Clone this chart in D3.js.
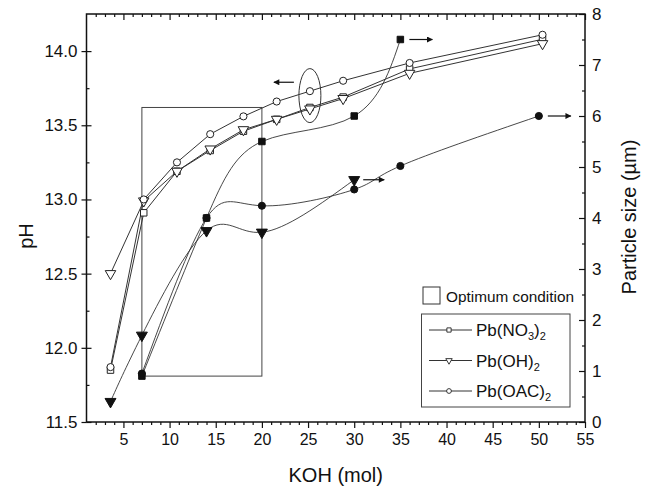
<!DOCTYPE html>
<html>
<head>
<meta charset="utf-8">
<script src="https://cdn.jsdelivr.net/npm/d3@7"></script>
<style>
  body { margin: 0; background: #fff; }
  text { font-family: 'Liberation Sans', Arial, sans-serif; fill: #111; }
</style>
</head>
<body>
<script>
  // pH (left axis), open symbols
  const kohOpen = [3.6, 7.2, 10.8, 14.4, 18, 21.6, 25.2, 28.8, 36, 50.4];
  const phNO3 = [11.85, 12.91, 13.19, 13.33, 13.46, 13.54, 13.62, 13.69, 13.88, 14.08];
  const phOH = [12.5, 12.99, 13.19, 13.34, 13.47, 13.54, 13.61, 13.68, 13.85, 14.05];
  const phOAC = [11.87, 13.0, 13.25, 13.44, 13.56, 13.66, 13.73, 13.8, 13.92, 14.11];

  // particle size (right axis), filled symbols
  const kohSizeNO3 = [7, 14, 20, 30, 35];
  const sizeNO3 = [0.9, 4.0, 5.5, 6.0, 7.5];
  const kohSizeOH = [3.6, 7, 14, 20, 30];
  const sizeOH = [0.4, 1.7, 3.75, 3.72, 4.75];
  const kohSizeOAC = [7, 14, 20, 30, 35, 50];
  const sizeOAC = [0.95, 4.0, 4.24, 4.56, 5.02, 6.0];

  // optimum condition box: KOH 7..20, pH top 13.62, size bottom 0.9
  const optimumKoh = [7, 20];
  const optimumPhTop = 13.62;
  const optimumSizeBottom = 0.9;

  const xTicks = [5, 10, 15, 20, 25, 30, 35, 40, 45, 50, 55];
  const phTicks = [11.5, 12.0, 12.5, 13.0, 13.5, 14.0];
  const sizeTicks = [0, 1, 2, 3, 4, 5, 6, 7, 8];
  const legendNames = [['Pb(NO', '3', ')', '2'], ['Pb(OH)', '2'], ['Pb(OAC)', '2']];

  const WIDTH = 654;
  const HEIGHT = 489;
  const LEFT = 86.5;
  const RIGHT = 585;
  const TOP = 14;
  const BOTTOM = 422;

  const svg = d3.select('body').append('svg')
    .attr('width', WIDTH)
    .attr('height', HEIGHT);

  const x = d3.scaleLinear().domain([1, 55]).range([LEFT, RIGHT]);
  const yL = d3.scaleLinear().domain([11.5, 14.25]).range([BOTTOM, TOP]);
  const yR = d3.scaleLinear().domain([0, 8]).range([BOTTOM, TOP]);

  const minorX = d3.range(2, 55, 1).filter(d => d % 5 !== 0);
  const minorPh = d3.range(11.75, 14.25, 0.5);
  const minorSize = d3.range(0.5, 8, 1);

  function styleAxis(g) {
    g.select('.domain').remove();
    g.selectAll('line').attr('stroke', '#111').attr('stroke-width', 1.2);
    g.selectAll('text').attr('font-size', 16).attr('fill', '#111');
  }

  // bottom
  svg.append('g').attr('transform', `translate(0,${BOTTOM})`)
    .call(d3.axisBottom(x).tickValues(xTicks).tickSize(6).tickPadding(6))
    .call(styleAxis);
  svg.append('g').attr('transform', `translate(0,${BOTTOM})`)
    .call(d3.axisBottom(x).tickValues(minorX).tickSize(3).tickFormat(''))
    .call(styleAxis);
  // top (mirror, inward)
  svg.append('g').attr('transform', `translate(0,${TOP})`)
    .call(d3.axisBottom(x).tickValues(xTicks).tickSize(6).tickFormat(''))
    .call(styleAxis);
  svg.append('g').attr('transform', `translate(0,${TOP})`)
    .call(d3.axisBottom(x).tickValues(minorX).tickSize(3).tickFormat(''))
    .call(styleAxis);

  // left pH
  svg.append('g').attr('transform', `translate(${LEFT},0)`)
    .call(d3.axisLeft(yL).tickValues(phTicks).tickSize(5).tickPadding(4).tickFormat(d3.format('.1f')))
    .call(styleAxis)
    .selectAll('text').attr('font-size', 17);
  svg.append('g').attr('transform', `translate(${LEFT},0)`)
    .call(d3.axisRight(yL).tickValues(phTicks).tickSize(5).tickFormat(''))
    .call(styleAxis);
  svg.append('g').attr('transform', `translate(${LEFT},0)`)
    .call(d3.axisRight(yL).tickValues(minorPh).tickSize(3).tickFormat(''))
    .call(styleAxis);

  // right size
  const rAxis = svg.append('g').attr('transform', `translate(${RIGHT},0)`)
    .call(d3.axisRight(yR).tickValues(sizeTicks).tickSize(0).tickPadding(7))
    .call(styleAxis);
  rAxis.selectAll('text').attr('font-size', 17);
  svg.append('g').attr('transform', `translate(${RIGHT},0)`)
    .call(d3.axisLeft(yR).tickValues(sizeTicks).tickSize(6).tickFormat(''))
    .call(styleAxis);
  svg.append('g').attr('transform', `translate(${RIGHT},0)`)
    .call(d3.axisLeft(yR).tickValues(minorSize).tickSize(3).tickFormat(''))
    .call(styleAxis);

  // frame
  svg.append('rect')
    .attr('x', LEFT).attr('y', TOP)
    .attr('width', RIGHT - LEFT).attr('height', BOTTOM - TOP)
    .attr('fill', 'none').attr('stroke', '#111').attr('stroke-width', 1.5);

  // axis titles
  svg.append('text')
    .attr('x', (LEFT + RIGHT) / 2).attr('y', 482)
    .attr('text-anchor', 'middle').attr('font-size', 20)
    .text('KOH (mol)');
  svg.append('text')
    .attr('transform', `translate(33,236) rotate(-90)`)
    .attr('text-anchor', 'middle').attr('font-size', 20)
    .text('pH');
  svg.append('text')
    .attr('transform', `translate(636,217) rotate(-90)`)
    .attr('text-anchor', 'middle').attr('font-size', 20)
    .text('Particle size (\u00b5m)');

  // optimum condition rectangle
  svg.append('rect')
    .attr('x', x(optimumKoh[0]))
    .attr('y', yL(optimumPhTop))
    .attr('width', x(optimumKoh[1]) - x(optimumKoh[0]))
    .attr('height', yR(optimumSizeBottom) - yL(optimumPhTop))
    .attr('fill', 'none').attr('stroke', '#444').attr('stroke-width', 1);

  const plot = svg.append('g');

  const openLine = d3.line().x(d => x(d[0])).y(d => yL(d[1]));
  const filledLine = d3.line().x(d => x(d[0])).y(d => yR(d[1])).curve(d3.curveNatural);

  const openSeries = [
    { name: 'NO3', ys: phNO3, sym: d3.symbolSquare, size: 42, rot: 0 },
    { name: 'OH', ys: phOH, sym: d3.symbolTriangle, size: 48, rot: 180 },
    { name: 'OAC', ys: phOAC, sym: d3.symbolCircle, size: 40, rot: 0 },
  ];
  const filledSeries = [
    { name: 'NO3', xs: kohSizeNO3, ys: sizeNO3, sym: d3.symbolSquare, size: 42, rot: 0 },
    { name: 'OH', xs: kohSizeOH, ys: sizeOH, sym: d3.symbolTriangle, size: 52, rot: 180 },
    { name: 'OAC', xs: kohSizeOAC, ys: sizeOAC, sym: d3.symbolCircle, size: 40, rot: 0 },
  ];

  openSeries.forEach(s => {
    const pts = kohOpen.map((k, i) => [k, s.ys[i]]);
    plot.append('path').datum(pts)
      .attr('d', openLine)
      .attr('fill', 'none').attr('stroke', '#333').attr('stroke-width', 1);
  });
  filledSeries.forEach(s => {
    const pts = s.xs.map((k, i) => [k, s.ys[i]]);
    plot.append('path').datum(pts)
      .attr('d', filledLine)
      .attr('fill', 'none').attr('stroke', '#333').attr('stroke-width', 0.9);
  });

  openSeries.forEach(s => {
    plot.selectAll(null)
      .data(kohOpen.map((k, i) => [k, s.ys[i]]))
      .enter()
      .append('path')
      .attr('d', d3.symbol().type(s.sym).size(s.size))
      .attr('transform', d => `translate(${x(d[0])},${yL(d[1])}) rotate(${s.rot})`)
      .attr('fill', '#fff').attr('stroke', '#222').attr('stroke-width', 1);
  });
  filledSeries.forEach(s => {
    plot.selectAll(null)
      .data(s.xs.map((k, i) => [k, s.ys[i]]))
      .enter()
      .append('path')
      .attr('d', d3.symbol().type(s.sym).size(s.size))
      .attr('transform', d => `translate(${x(d[0])},${yR(d[1])}) rotate(${s.rot})`)
      .attr('fill', '#111').attr('stroke', '#111').attr('stroke-width', 1);
  });

  // arrows showing which axis each group belongs to
  svg.append('defs').append('marker')
    .attr('id', 'head')
    .attr('viewBox', '0 0 10 10')
    .attr('refX', 9).attr('refY', 5)
    .attr('markerWidth', 7).attr('markerHeight', 5)
    .attr('orient', 'auto')
    .append('path').attr('d', 'M0,0L10,5L0,10z').attr('fill', '#111');

  const rightArrows = [
    [kohSizeNO3[4], sizeNO3[4], 32],
    [kohSizeOH[4], sizeOH[4], 30],
    [kohSizeOAC[5], sizeOAC[5], 32],
  ];
  svg.selectAll('.arrR')
    .data(rightArrows)
    .enter()
    .append('line')
    .attr('x1', d => x(d[0]) + 9).attr('x2', d => x(d[0]) + d[2])
    .attr('y1', d => yR(d[1])).attr('y2', d => yR(d[1]))
    .attr('stroke', '#111').attr('stroke-width', 1.2)
    .attr('marker-end', 'url(#head)');

  // ellipse around pH group with arrow pointing left
  const ellipseAt = [kohOpen[6], 13.7];
  svg.append('ellipse')
    .attr('cx', x(ellipseAt[0])).attr('cy', yL(ellipseAt[1]))
    .attr('rx', 11).attr('ry', 27)
    .attr('fill', 'none').attr('stroke', '#333').attr('stroke-width', 1);
  svg.append('line')
    .attr('x1', x(ellipseAt[0]) - 16).attr('x2', x(ellipseAt[0]) - 36)
    .attr('y1', yL(13.79)).attr('y2', yL(13.79))
    .attr('stroke', '#111').attr('stroke-width', 1.2)
    .attr('marker-end', 'url(#head)');

  // legend
  const leg = svg.append('g');
  leg.append('rect')
    .attr('x', 423).attr('y', 287).attr('width', 17).attr('height', 17)
    .attr('fill', 'none').attr('stroke', '#333').attr('stroke-width', 1);
  leg.append('text')
    .attr('x', 446).attr('y', 302).attr('font-size', 15)
    .attr('textLength', 128).attr('lengthAdjust', 'spacingAndGlyphs')
    .text('Optimum condition');
  leg.append('rect')
    .attr('x', 421.5).attr('y', 314).attr('width', 148.5).attr('height', 93)
    .attr('fill', 'none').attr('stroke', '#444').attr('stroke-width', 1);

  const rows = leg.selectAll('.row')
    .data(openSeries)
    .enter()
    .append('g')
    .attr('transform', (d, i) => `translate(0,${330 + i * 30.5})`);
  rows.append('line')
    .attr('x1', 429).attr('x2', 472).attr('y1', 0).attr('y2', 0)
    .attr('stroke', '#333').attr('stroke-width', 1);
  rows.append('path')
    .attr('d', d => d3.symbol().type(d.sym).size(18)())
    .attr('transform', d => `translate(449,0) rotate(${d.rot})`)
    .attr('fill', '#fff').attr('stroke', '#222').attr('stroke-width', 0.9);
  rows.append('text')
    .attr('x', 476).attr('y', 6).attr('font-size', 17)
    .each(function(d, i) {
      const t = d3.select(this);
      legendNames[i].forEach((part, j) => {
        const sub = j % 2 === 1;
        t.append('tspan')
          .attr('font-size', sub ? 11 : 17)
          .attr('dy', sub ? 4 : (j > 0 ? -4 : 0))
          .text(part);
      });
    });
</script>
</body>
</html>
